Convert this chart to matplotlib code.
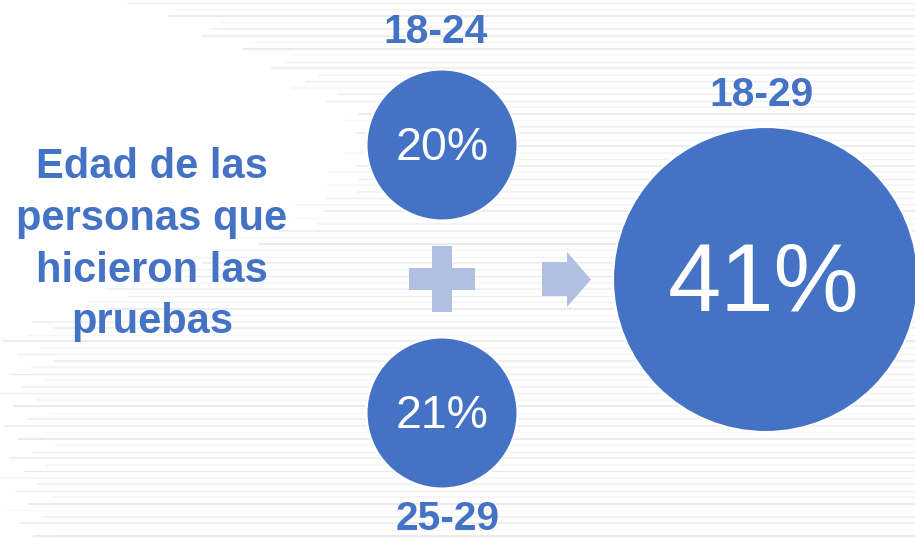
import matplotlib.pyplot as plt
from matplotlib.patches import Circle, Rectangle, Polygon
import numpy as np

# data
age_groups = ["18-24", "25-29"]
shares = [20, 21]
total_group = "18-29"
total_share = 41
title_lines = ["Edad de las", "personas que", "hicieron las", "pruebas"]

blue = "#4472C4"
light = "#B1BFE1"
font = "Liberation Sans"

fig = plt.figure(figsize=(9.15, 5.38), dpi=100)
ax = fig.add_axes([0, 0, 1, 1])
ax.set_xlim(0, 915)
ax.set_ylim(538, 0)
ax.axis("off")

# faint horizontal streaks of the background
ys = np.arange(3, 538, 6.5)
starts = np.interp(ys, [0, 60, 120, 170, 220, 280, 330], [120, 250, 340, 330, 270, 120, 0])
shades = ["#f0f0f0", "#f6f6f6", "#ebebeb", "#f8f8f8", "#f3f3f3"]
for k, (y, x0) in enumerate(zip(ys, starts)):
    x0 = x0 + (k * 37) % 60
    ax.plot([x0, 915], [y, y], color=shades[k % 5], lw=1.5 if k % 3 else 1.0, zorder=0,
            solid_capstyle="round")

# small circles
centers = [(442, 145), (442, 413)]
for (cx, cy), pct in zip(centers, shares):
    ax.add_patch(Circle((cx, cy), 75.5, facecolor=blue, edgecolor="white", lw=1.5, zorder=2))
    ax.text(cx, cy + 15, f"{pct}%", color="white", fontsize=33.5, family=font,
            ha="center", va="baseline", zorder=3)

ax.text(436, 43, age_groups[0], color=blue, fontsize=29.3, family=font, weight="bold",
        ha="center", va="baseline")
ax.text(448, 530, age_groups[1], color=blue, fontsize=29.3, family=font, weight="bold",
        ha="center", va="baseline")

# big circle
ax.add_patch(Circle((765.5, 279.5), 152.5, facecolor=blue, edgecolor="white", lw=1.5, zorder=2))
ax.text(764, 311, f"{total_share}%", color="white", fontsize=69, family=font,
        ha="center", va="baseline", zorder=3)
ax.text(762, 106, total_group, color=blue, fontsize=29.3, family=font, weight="bold",
        ha="center", va="baseline")

# plus sign
ax.add_patch(Rectangle((409, 268), 66, 22, facecolor=light, lw=0, zorder=2))
ax.add_patch(Rectangle((432, 246), 20, 66, facecolor=light, lw=0, zorder=2))

# arrow
ax.add_patch(Polygon([(542, 262), (567, 262), (567, 252), (591, 279.5),
                      (567, 307), (567, 296), (542, 296)],
                     closed=True, facecolor=light, lw=0, zorder=2))

# left title
baselines = [178, 230, 282, 333]
for line, yb in zip(title_lines, baselines):
    ax.text(152, yb, line, color=blue, fontsize=30, family=font, weight="bold",
            ha="center", va="baseline")

fig.savefig("out.png", dpi=100)
